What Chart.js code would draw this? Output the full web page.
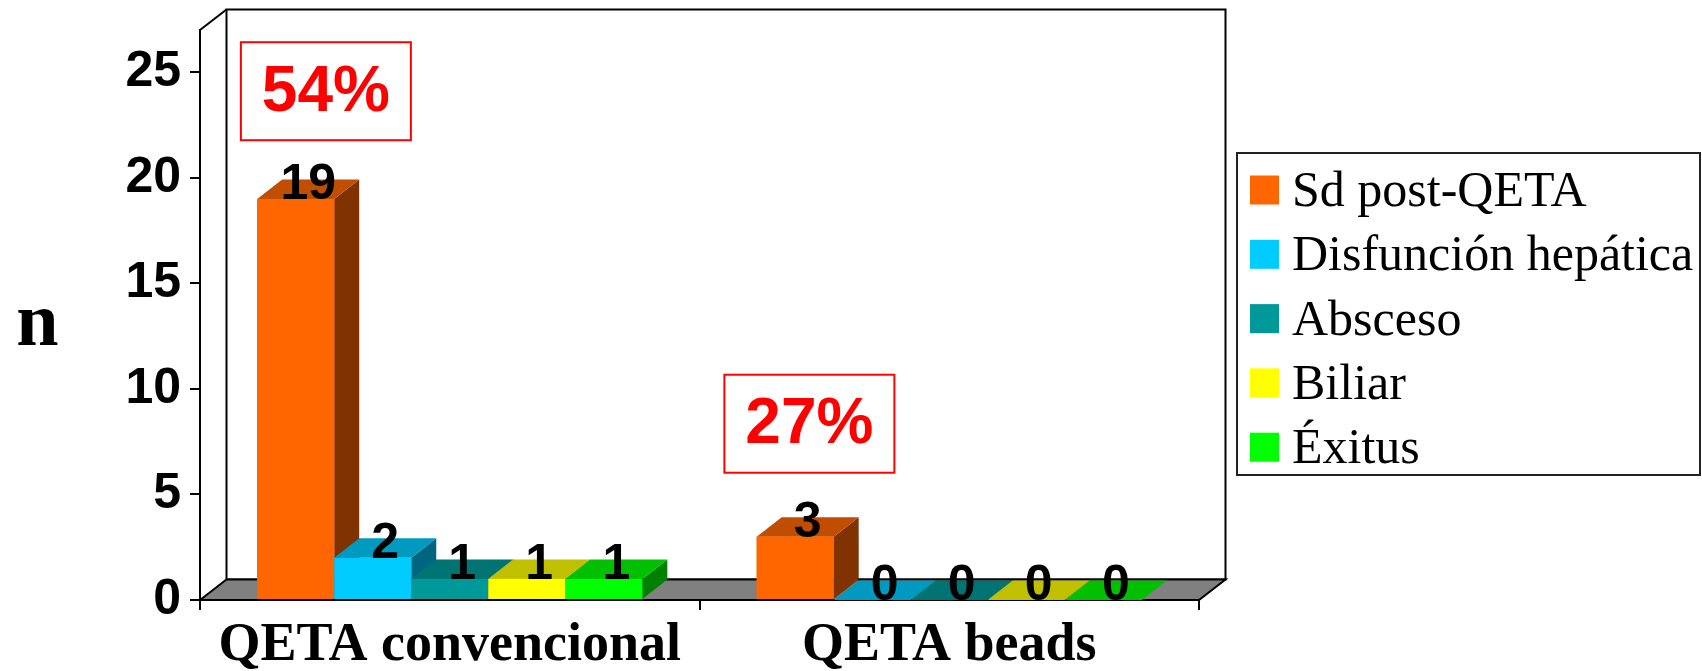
<!DOCTYPE html>
<html>
<head>
<meta charset="utf-8">
<script src="https://cdn.jsdelivr.net/npm/chart.js@4.4.0/dist/chart.umd.min.js"></script>
<style>
  html, body { margin: 0; padding: 0; background: #fff; }
  #wrap { width: 1702px; height: 671px; }
</style>
</head>
<body>
<div id="wrap"><canvas id="chart"></canvas></div>
<script>
// data
const categories = ['QETA convencional', 'QETA beads'];
const seriesNames = ['Sd post-QETA', 'Disfunción hepática', 'Absceso', 'Biliar', 'Éxitus'];
const sdPostQeta = [19, 3];
const disfuncionHepatica = [2, 0];
const absceso = [1, 0];
const biliar = [1, 0];
const exitus = [1, 0];
const percentLabels = ['54%', '27%'];
const yTicks = [0, 5, 10, 15, 20, 25];
const yTitle = 'n';
const yMax = 27;

// face colours: front, top, side
const frontColors = ['#FF6600', '#00CCFF', '#009999', '#FFFF00', '#00FF00'];
const topColors = ['#C04D00', '#0099C0', '#007373', '#C0C000', '#00C000'];
const sideColors = ['#803300', '#006680', '#004D4D', '#808000', '#008000'];

const seriesValues = [sdPostQeta, disfuncionHepatica, absceso, biliar, exitus];

const SANS = '"Liberation Sans", Arial, sans-serif';
const SERIF = '"Liberation Serif", "Times New Roman", serif';

// floor / wall depth and bar depth
const DX = 26.5, DY = -20.5;
const BDX = 25, BDY = -19.5;

const box3d = {
  id: 'box3d',
  beforeDatasetsDraw(chart) {
    const { ctx, chartArea: a } = chart;
    ctx.save();
    ctx.lineWidth = 2;
    ctx.strokeStyle = '#000';
    // back wall
    ctx.beginPath();
    ctx.rect(a.left + DX, a.top + DY, a.right - a.left, a.bottom - a.top);
    ctx.stroke();
    // left side wall top edge
    ctx.beginPath();
    ctx.moveTo(a.left, a.top);
    ctx.lineTo(a.left + DX, a.top + DY);
    ctx.stroke();
    // floor
    ctx.beginPath();
    ctx.moveTo(a.left, a.bottom);
    ctx.lineTo(a.left + DX, a.bottom + DY);
    ctx.lineTo(a.right + DX, a.bottom + DY);
    ctx.lineTo(a.right, a.bottom);
    ctx.closePath();
    ctx.fillStyle = '#808080';
    ctx.fill();
    ctx.stroke();
    ctx.restore();
  },
  afterDatasetsDraw(chart) {
    const { ctx } = chart;
    const items = [];
    chart.data.datasets.forEach((ds, i) => {
      chart.getDatasetMeta(i).data.forEach((bar, j) => items.push({ bar, i, j }));
    });
    items.sort((p, q) => p.bar.x - q.bar.x);
    ctx.save();
    items.forEach(({ bar, i }) => {
      const { x, y, base, width } = bar.getProps(['x', 'y', 'base', 'width'], true);
      const l = x - width / 2, r = x + width / 2;
      // side
      ctx.fillStyle = sideColors[i];
      ctx.beginPath();
      ctx.moveTo(r, y);
      ctx.lineTo(r + BDX, y + BDY);
      ctx.lineTo(r + BDX, base + BDY);
      ctx.lineTo(r, base);
      ctx.closePath();
      ctx.fill();
      // top
      ctx.fillStyle = topColors[i];
      ctx.beginPath();
      ctx.moveTo(l, y);
      ctx.lineTo(l + BDX, y + BDY);
      ctx.lineTo(r + BDX, y + BDY);
      ctx.lineTo(r, y);
      ctx.closePath();
      ctx.fill();
      // front
      ctx.fillStyle = frontColors[i];
      ctx.fillRect(l, y, width, base - y);
    });
    // value labels
    ctx.fillStyle = '#000';
    ctx.font = 'bold 50px ' + SANS;
    ctx.textAlign = 'center';
    ctx.textBaseline = 'alphabetic';
    items.forEach(({ bar, i, j }) => {
      const { x, y } = bar.getProps(['x', 'y'], true);
      ctx.fillText(String(chart.data.datasets[i].data[j]), x + BDX / 2, y);
    });
    ctx.restore();
  },
  afterDraw(chart) {
    const { ctx, chartArea: a, scales } = chart;
    ctx.save();
    // y title, upright
    ctx.fillStyle = '#000';
    ctx.font = 'bold 76px ' + SERIF;
    ctx.textAlign = 'center';
    ctx.textBaseline = 'alphabetic';
    ctx.fillText(yTitle, 37.5, (a.top + a.bottom) / 2 + 30);

    // percentage boxes
    const spots = [{ x: -0.248, y: 24.1 }, { x: 0.72, y: 8.35 }];
    ctx.font = 'bold 64px ' + SANS;
    ctx.textBaseline = 'middle';
    percentLabels.forEach((t, k) => {
      const cx = scales.x.getPixelForValue(spots[k].x);
      const cy = scales.y.getPixelForValue(spots[k].y);
      ctx.strokeStyle = '#FF0000';
      ctx.lineWidth = 2;
      ctx.strokeRect(cx - 85, cy - 49, 170, 98);
      ctx.fillStyle = '#FF0000';
      ctx.fillText(t, cx, cy + 2);
    });

    // legend
    const lx = 1237, ly = 153, lw = 463, lh = 322;
    ctx.fillStyle = '#fff';
    ctx.fillRect(lx, ly, lw, lh);
    ctx.strokeStyle = '#222';
    ctx.lineWidth = 2;
    ctx.strokeRect(lx, ly, lw, lh);
    ctx.font = '50px ' + SERIF;
    ctx.textAlign = 'left';
    ctx.textBaseline = 'alphabetic';
    chart.data.datasets.forEach((ds, i) => {
      const cy = 190 + i * 64.3;
      ctx.fillStyle = ds.backgroundColor;
      ctx.fillRect(1250, cy - 14.5, 29, 29);
      ctx.fillStyle = '#000';
      ctx.fillText(ds.label, 1292, cy + 16);
    });
    ctx.restore();
  }
};

new Chart(document.getElementById('chart'), {
  type: 'bar',
  data: {
    labels: categories,
    datasets: seriesNames.map((name, i) => ({
      label: name,
      data: seriesValues[i],
      backgroundColor: frontColors[i],
      borderWidth: 0,
      categoryPercentage: 0.771,
      barPercentage: 1
    }))
  },
  options: {
    responsive: true,
    maintainAspectRatio: false,
    animation: false,
    devicePixelRatio: 1,
    layout: { padding: { top: 30, right: 503, left: 0, bottom: 0 } },
    plugins: {
      legend: { display: false },
      tooltip: { enabled: false }
    },
    scales: {
      x: {
        grid: { offset: true, drawOnChartArea: false, drawTicks: true, tickLength: 10, color: '#000', lineWidth: 2 },
        border: { display: true, color: '#000', width: 2 },
        ticks: { color: '#000', padding: 4, maxRotation: 0, font: { family: SERIF, size: 54, weight: 'bold' } },
        afterFit(scale) { scale.height = 71; }
      },
      y: {
        min: 0,
        max: yMax,
        grid: { drawOnChartArea: false, drawTicks: true, tickLength: 10, color: '#000', lineWidth: 2 },
        border: { display: true, color: '#000', width: 2 },
        ticks: { color: '#000', padding: 9, font: { family: SANS, size: 50, weight: 'bold' } },
        afterBuildTicks(scale) { scale.ticks = yTicks.map(v => ({ value: v })); },
        afterFit(scale) {
          scale.width = 200;
          scale.paddingTop = 0;
          scale.paddingBottom = 0;
        }
      }
    }
  },
  plugins: [box3d]
});
</script>
</body>
</html>
